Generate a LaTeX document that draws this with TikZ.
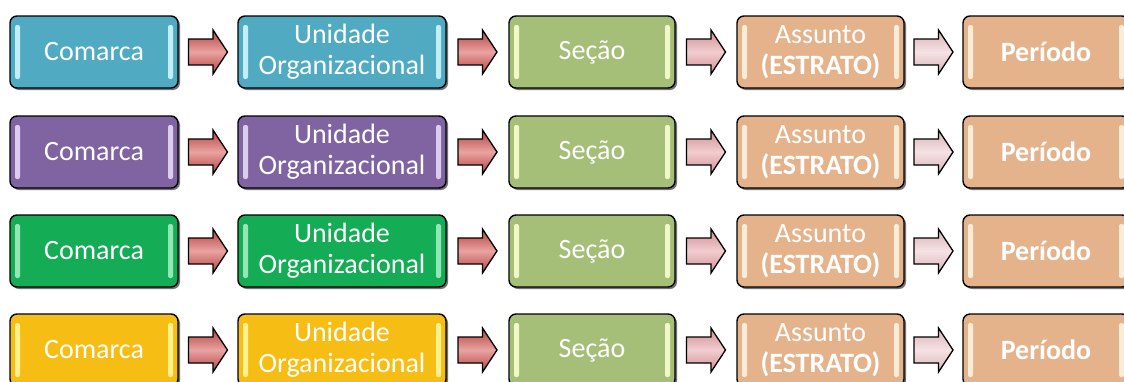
\documentclass[tikz,border=0pt]{standalone}
\usepackage{fontspec}
\setmainfont{Carlito}
\usetikzlibrary{shadows,calc}
\definecolor{cTeal}{HTML}{4FAAC2}
\definecolor{hTeal}{HTML}{C4EEF7}
\definecolor{cPurp}{HTML}{8064A2}
\definecolor{hPurp}{HTML}{DCCDEE}
\definecolor{cGrn}{HTML}{14AC55}
\definecolor{hGrn}{HTML}{95E6B5}
\definecolor{cYel}{HTML}{F6BE14}
\definecolor{hYel}{HTML}{FFF28E}
\definecolor{cSec}{HTML}{A6BF78}
\definecolor{hSec}{HTML}{F0F8C8}
\definecolor{cPch}{HTML}{E5B38B}
\definecolor{hPch}{HTML}{FCEBD6}
\definecolor{aRedD}{HTML}{B5413F}
\definecolor{aRedL}{HTML}{E8A3A1}
\definecolor{aPnkD}{HTML}{CF8E92}
\definecolor{aPnkL}{HTML}{F2CDD0}
\definecolor{aLgtD}{HTML}{D9B3B7}
\definecolor{aLgtL}{HTML}{F5E2E4}
\tikzset{
  box/.style 2 args={draw=black, line width=1.4pt, rounded corners=7pt,
    fill=#1, minimum height=72pt, inner sep=0pt, text=white,
    font=\fontsize{28}{31}\selectfont, align=center,
    drop shadow={shadow xshift=2pt, shadow yshift=-2pt, fill=black, opacity=0.55},
    path picture={
      \fill[#2, rounded corners=2pt]
        ([xshift=5pt,yshift=-9pt]path picture bounding box.north west)
        rectangle ([xshift=10pt,yshift=9pt]path picture bounding box.south west);
      \fill[#2, rounded corners=2pt]
        ([xshift=-10pt,yshift=-9pt]path picture bounding box.north east)
        rectangle ([xshift=-5pt,yshift=9pt]path picture bounding box.south east);
    }},
  arrowbox/.style={draw=black, line width=1.3pt, line join=miter},
  arrowA/.style={top color=aRedD, bottom color=aRedD, middle color=aRedL},
  arrowB/.style={top color=aPnkD, bottom color=aPnkD, middle color=aPnkL},
  arrowC/.style={top color=aLgtD, bottom color=aLgtD, middle color=aLgtL},
}
\newcommand\blockarrow[3]{%
  \draw[arrowbox,#3] let \p1=(#1.east), \p2=(#2.west), \n1={0.5*(\x1+\x2)} in
    (\n1-19.5pt,\y1+13pt) -- (\n1+5pt,\y1+13pt) -- (\n1+5pt,\y1+22pt) --
    (\n1+19.5pt,\y1) -- (\n1+5pt,\y1-22pt) -- (\n1+5pt,\y1-13pt) --
    (\n1-19.5pt,\y1-13pt) -- cycle;}
\begin{document}
\begin{tikzpicture}[x=1pt,y=-1pt]
\useasboundingbox[fill=white] (0,0) rectangle (1124,381);
\foreach \r/\yy/\c/\h in {1/52/cTeal/hTeal, 2/152/cPurp/hPurp, 3/251/cGrn/hGrn, 4/350/cYel/hYel} {
  \node[box={\c}{\h}, minimum width=168pt] (c1r\r) at (94,\yy) {Comarca};
  \node[box={\c}{\h}, minimum width=208pt] (c2r\r) at (342,\yy) {Unidade\\Organizacional};
  \node[box={cSec}{hSec}, minimum width=166pt] (c3r\r) at (592,\yy) {Seção};
  \node[box={cPch}{hPch}, minimum width=167pt] (c4r\r) at (820.5,\yy) {Assunto\\\textbf{(ESTRATO)}};
  \node[box={cPch}{hPch}, minimum width=166pt] (c5r\r) at (1046,\yy) {\textbf{Período}};
  \blockarrow{c1r\r}{c2r\r}{arrowA}
  \blockarrow{c2r\r}{c3r\r}{arrowA}
  \blockarrow{c3r\r}{c4r\r}{arrowB}
  \blockarrow{c4r\r}{c5r\r}{arrowC}
}
\end{tikzpicture}
\end{document}
